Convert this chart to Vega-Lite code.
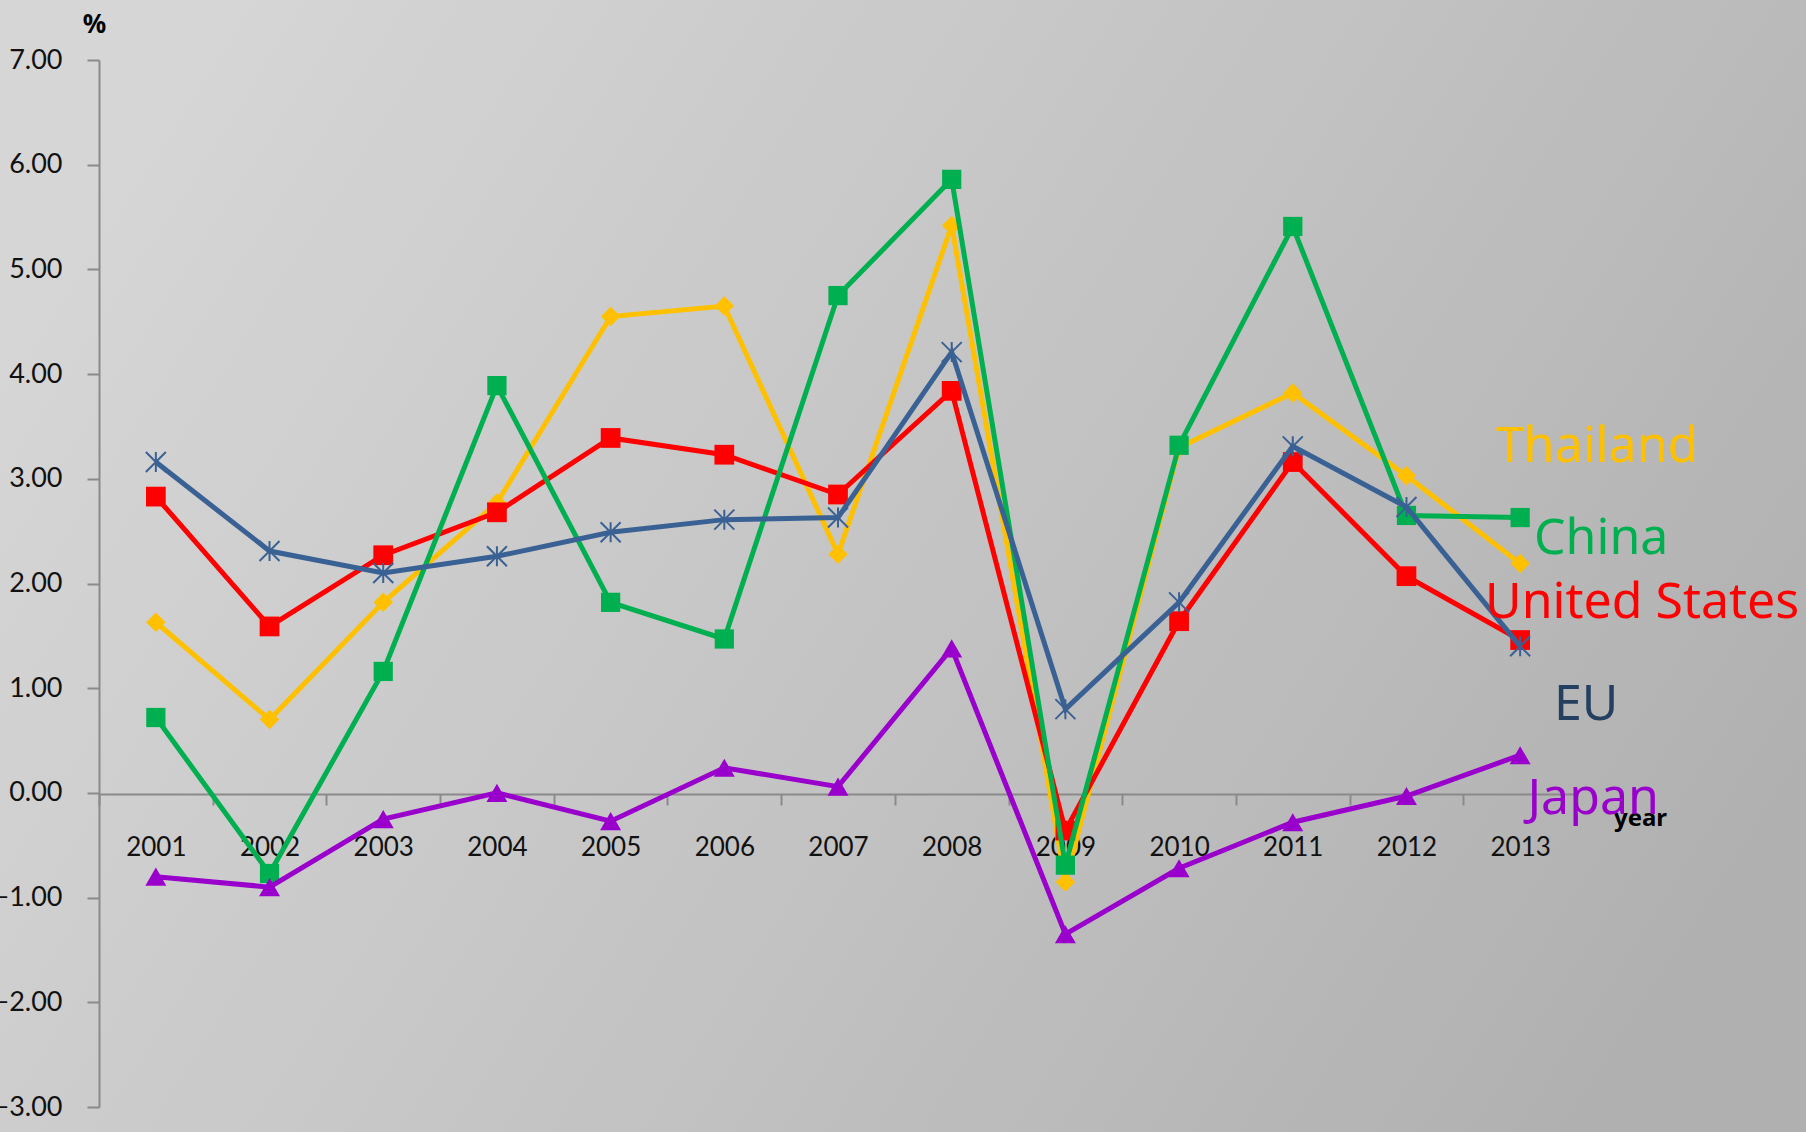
{
  "$schema": "https://vega.github.io/schema/vega-lite/v6.json",
  "width": 1806,
  "height": 1132,
  "autosize": {"type": "none"},
  "padding": 0,
  "background": "#c2c2c2",
  "config": {
    "view": {
      "stroke": null,
      "fill": {"gradient": "linear", "x1": 0, "y1": 0.3, "x2": 1, "y2": 0.7,
        "stops": [{"offset": 0, "color": "#d6d6d6"}, {"offset": 0.5, "color": "#c4c4c4"}, {"offset": 1, "color": "#b0b0b0"}]}
    }
  },
  "data": {
    "values": [
      {"year": "2001", "series": "Thailand", "value": 1.63},
      {"year": "2002", "series": "Thailand", "value": 0.70},
      {"year": "2003", "series": "Thailand", "value": 1.82},
      {"year": "2004", "series": "Thailand", "value": 2.77},
      {"year": "2005", "series": "Thailand", "value": 4.55},
      {"year": "2006", "series": "Thailand", "value": 4.65},
      {"year": "2007", "series": "Thailand", "value": 2.28},
      {"year": "2008", "series": "Thailand", "value": 5.42},
      {"year": "2009", "series": "Thailand", "value": -0.85},
      {"year": "2010", "series": "Thailand", "value": 3.30},
      {"year": "2011", "series": "Thailand", "value": 3.82},
      {"year": "2012", "series": "Thailand", "value": 3.03},
      {"year": "2013", "series": "Thailand", "value": 2.19},
      {"year": "2001", "series": "China", "value": 0.72},
      {"year": "2002", "series": "China", "value": -0.77},
      {"year": "2003", "series": "China", "value": 1.16},
      {"year": "2004", "series": "China", "value": 3.89},
      {"year": "2005", "series": "China", "value": 1.82},
      {"year": "2006", "series": "China", "value": 1.47},
      {"year": "2007", "series": "China", "value": 4.75},
      {"year": "2008", "series": "China", "value": 5.86},
      {"year": "2009", "series": "China", "value": -0.69},
      {"year": "2010", "series": "China", "value": 3.32},
      {"year": "2011", "series": "China", "value": 5.41},
      {"year": "2012", "series": "China", "value": 2.65},
      {"year": "2013", "series": "China", "value": 2.63},
      {"year": "2001", "series": "United States", "value": 2.83},
      {"year": "2002", "series": "United States", "value": 1.59},
      {"year": "2003", "series": "United States", "value": 2.27},
      {"year": "2004", "series": "United States", "value": 2.68},
      {"year": "2005", "series": "United States", "value": 3.39},
      {"year": "2006", "series": "United States", "value": 3.23},
      {"year": "2007", "series": "United States", "value": 2.85},
      {"year": "2008", "series": "United States", "value": 3.84},
      {"year": "2009", "series": "United States", "value": -0.36},
      {"year": "2010", "series": "United States", "value": 1.64},
      {"year": "2011", "series": "United States", "value": 3.16},
      {"year": "2012", "series": "United States", "value": 2.07},
      {"year": "2013", "series": "United States", "value": 1.46},
      {"year": "2001", "series": "EU", "value": 3.16},
      {"year": "2002", "series": "EU", "value": 2.31},
      {"year": "2003", "series": "EU", "value": 2.10},
      {"year": "2004", "series": "EU", "value": 2.26},
      {"year": "2005", "series": "EU", "value": 2.49},
      {"year": "2006", "series": "EU", "value": 2.61},
      {"year": "2007", "series": "EU", "value": 2.63},
      {"year": "2008", "series": "EU", "value": 4.21},
      {"year": "2009", "series": "EU", "value": 0.80},
      {"year": "2010", "series": "EU", "value": 1.82},
      {"year": "2011", "series": "EU", "value": 3.31},
      {"year": "2012", "series": "EU", "value": 2.73},
      {"year": "2013", "series": "EU", "value": 1.40},
      {"year": "2001", "series": "Japan", "value": -0.80},
      {"year": "2002", "series": "Japan", "value": -0.90},
      {"year": "2003", "series": "Japan", "value": -0.25},
      {"year": "2004", "series": "Japan", "value": 0.00},
      {"year": "2005", "series": "Japan", "value": -0.27},
      {"year": "2006", "series": "Japan", "value": 0.24},
      {"year": "2007", "series": "Japan", "value": 0.06},
      {"year": "2008", "series": "Japan", "value": 1.38},
      {"year": "2009", "series": "Japan", "value": -1.35},
      {"year": "2010", "series": "Japan", "value": -0.72},
      {"year": "2011", "series": "Japan", "value": -0.28},
      {"year": "2012", "series": "Japan", "value": -0.03},
      {"year": "2013", "series": "Japan", "value": 0.36}
    ]
  },
  "encoding": {
    "x": {
      "field": "year", "type": "ordinal", "bandPosition": 0.5,
      "scale": {"type": "band", "range": [99, 1577], "paddingInner": 0, "paddingOuter": 0},
      "axis": {
        "orient": "bottom", "offset": -338,
        "title": "year", "titleX": 1640, "titleY": 31, "titleAlign": "center", "titleBaseline": "alphabetic",
        "titleFont": "Noto Sans", "titleFontSize": 24, "titleFontWeight": "bold", "titleColor": "#000000",
        "labelFont": "Lato", "labelFontSize": 26, "labelColor": "#111111", "labelAngle": 0, "labelPadding": 29,
        "tickBand": "extent", "tickSize": 11, "tickColor": "#8a8a8a", "tickWidth": 2,
        "domainColor": "#8a8a8a", "domainWidth": 2, "grid": false
      }
    },
    "y": {
      "field": "value", "type": "quantitative",
      "scale": {"domain": [-3, 7], "range": [1107, 60], "nice": false, "zero": false},
      "axis": {
        "orient": "left", "offset": -99,
        "values": [-3, -2, -1, 0, 1, 2, 3, 4, 5, 6, 7], "format": ".2f",
        "title": "%", "titleAngle": 0, "titleX": -5, "titleY": 32, "titleAlign": "center", "titleBaseline": "alphabetic",
        "titleFont": "Noto Sans", "titleFontSize": 26, "titleFontWeight": "bold", "titleColor": "#000000",
        "labelFont": "Lato", "labelFontSize": 27, "labelColor": "#111111", "labelPadding": 25,
        "tickSize": 12, "tickColor": "#8a8a8a", "tickWidth": 2,
        "domainColor": "#8a8a8a", "domainWidth": 2, "grid": false
      }
    }
  },
  "layer": [
    {"transform": [{"filter": "datum.series === 'Thailand'"}], "mark": {"type": "line", "color": "#FFC000", "strokeWidth": 5}},
    {"transform": [{"filter": "datum.series === 'Thailand'"}], "mark": {"type": "point", "shape": "diamond", "filled": true, "color": "#FFC000", "size": 380, "opacity": 1}},
    {"transform": [{"filter": "datum.series === 'United States'"}], "mark": {"type": "line", "color": "#FF0000", "strokeWidth": 5}},
    {"transform": [{"filter": "datum.series === 'United States'"}], "mark": {"type": "point", "shape": "square", "filled": true, "color": "#FF0000", "size": 390, "opacity": 1}},
    {"transform": [{"filter": "datum.series === 'China'"}], "mark": {"type": "line", "color": "#00B050", "strokeWidth": 5}},
    {"transform": [{"filter": "datum.series === 'China'"}], "mark": {"type": "point", "shape": "square", "filled": true, "color": "#00B050", "size": 370, "opacity": 1}},
    {"transform": [{"filter": "datum.series === 'EU'"}], "mark": {"type": "line", "color": "#3A6194", "strokeWidth": 5}},
    {"transform": [{"filter": "datum.series === 'EU'"}], "mark": {"type": "point", "shape": "M-1,-1L1,1M1,-1L-1,1M0,-1L0,1", "filled": false, "color": "#3A6194", "strokeWidth": 2, "size": 400, "opacity": 1}},
    {"transform": [{"filter": "datum.series === 'Japan'"}], "mark": {"type": "line", "color": "#9900CC", "strokeWidth": 5}},
    {"transform": [{"filter": "datum.series === 'Japan'"}], "mark": {"type": "point", "shape": "triangle-up", "filled": true, "color": "#9900CC", "size": 440, "opacity": 1}},
    {"transform": [{"filter": "datum.series === 'Thailand' && datum.year === '2013'"}], "mark": {"type": "text", "font": "Noto Sans", "fontSize": 50, "color": "#FFC000", "align": "center", "baseline": "alphabetic", "dx": 77, "dy": -102}, "encoding": {"text": {"field": "series"}}},
    {"transform": [{"filter": "datum.series === 'China' && datum.year === '2013'"}], "mark": {"type": "text", "font": "Noto Sans", "fontSize": 50, "color": "#00B050", "align": "center", "baseline": "alphabetic", "dx": 81, "dy": 36}, "encoding": {"text": {"field": "series"}}},
    {"transform": [{"filter": "datum.series === 'United States' && datum.year === '2013'"}], "mark": {"type": "text", "font": "Noto Sans", "fontSize": 50, "color": "#FF0000", "align": "center", "baseline": "alphabetic", "dx": 122, "dy": -22}, "encoding": {"text": {"field": "series"}}},
    {"transform": [{"filter": "datum.series === 'EU' && datum.year === '2013'"}], "mark": {"type": "text", "font": "Noto Sans", "fontSize": 50, "color": "#243F60", "align": "center", "baseline": "alphabetic", "dx": 66, "dy": 74}, "encoding": {"text": {"field": "series"}}},
    {"transform": [{"filter": "datum.series === 'Japan' && datum.year === '2013'"}], "mark": {"type": "text", "font": "Noto Sans", "fontSize": 50, "color": "#9900CC", "align": "center", "baseline": "alphabetic", "dx": 73, "dy": 59}, "encoding": {"text": {"field": "series"}}}
  ]
}
